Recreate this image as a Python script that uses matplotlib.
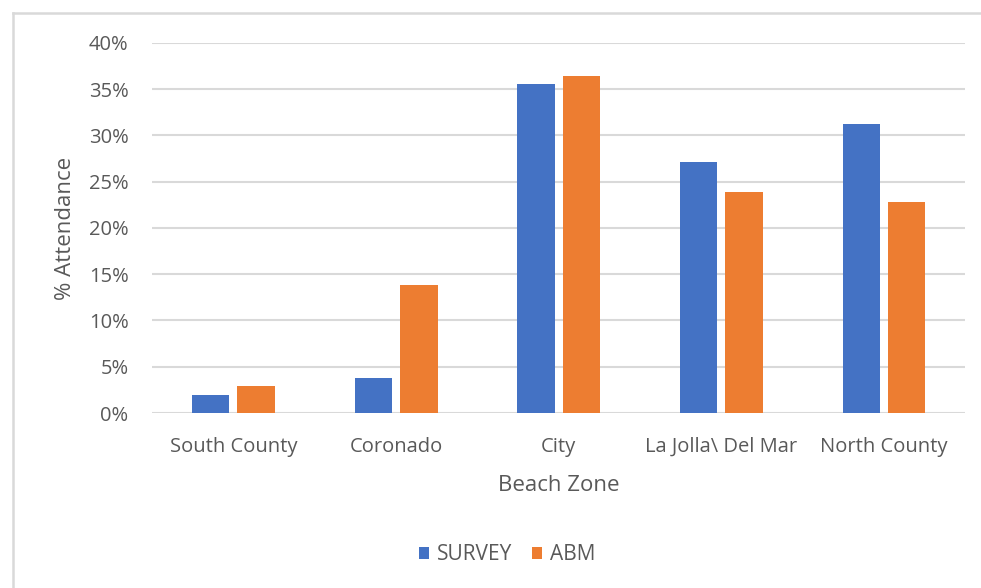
import numpy as np
import matplotlib.pyplot as plt
from matplotlib.lines import Line2D
from matplotlib.ticker import PercentFormatter

zones = ["South County", "Coronado", "City", "La Jolla\\ Del Mar", "North County"]
survey = [2.0, 3.8, 35.6, 27.1, 31.2]
abm = [2.9, 13.8, 36.4, 23.9, 22.8]

plt.rcParams['font.family'] = ['Open Sans', 'DejaVu Sans']
grey = '#595959'

fig = plt.figure(figsize=(9.81, 5.88), dpi=100)
ax = fig.add_axes([0.155, 0.2976, 0.829, 0.6294])

x = np.arange(len(zones))
w = 0.23
ax.bar(x - 0.14, survey, w, color='#4472C4', label='SURVEY', zorder=3)
ax.bar(x + 0.14, abm, w, color='#ED7D31', label='ABM', zorder=3)

ax.set_xlim(-0.5, len(zones) - 0.5)
ax.set_ylim(0, 40)
ax.set_yticks(range(0, 41, 5))
ax.yaxis.set_major_formatter(PercentFormatter(decimals=0))
ax.set_xticks(x)
ax.set_xticklabels(zones)
ax.grid(axis='y', color='#d9d9d9', linewidth=1.5, zorder=0)
for s in ax.spines.values():
    s.set_visible(False)
ax.tick_params(length=0, labelsize=14.5, labelcolor=grey)
ax.tick_params(axis='y', pad=17)
ax.tick_params(axis='x', pad=17)

ax.set_xlabel('Beach Zone', fontsize=16, color=grey, labelpad=13)
ax.set_ylabel('% Attendance', fontsize=16, color=grey, labelpad=9)

fig.legend(loc='center', bbox_to_anchor=(0.517, 0.057), ncol=2, frameon=False,
           fontsize=15, labelcolor=grey, handlelength=0.5, handleheight=0.5,
           handletextpad=0.4, columnspacing=0.9)

# outer chart-area border (top and left edges visible)
fy = 1 - 13 / 588
fx = 13 / 981
fig.add_artist(Line2D([fx, 1.01], [fy, fy], transform=fig.transFigure,
                      color='#d9d9d9', linewidth=1.8))
fig.add_artist(Line2D([fx, fx], [-0.01, fy], transform=fig.transFigure,
                      color='#d9d9d9', linewidth=1.8))

fig.savefig('out.png', dpi=100)
